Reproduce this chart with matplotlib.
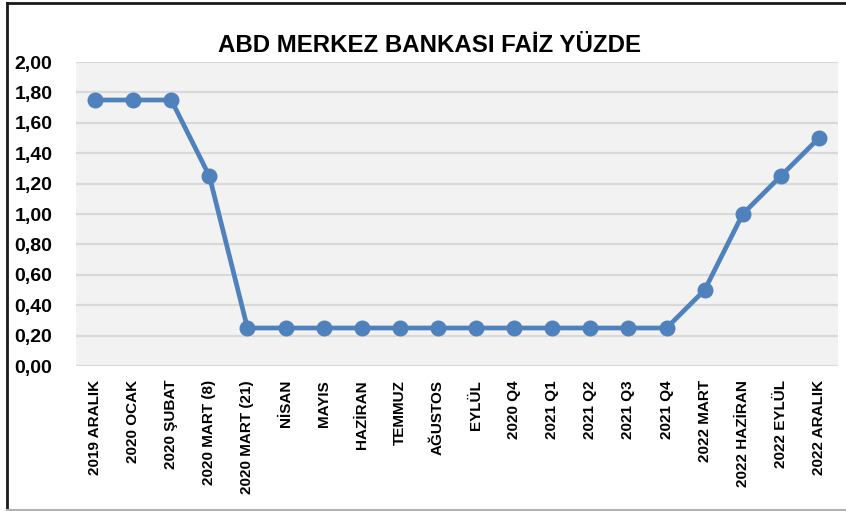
import matplotlib
matplotlib.use("Agg")
import matplotlib.pyplot as plt
from matplotlib.lines import Line2D
from matplotlib.ticker import FuncFormatter

plt.rcParams['font.family'] = ['Liberation Sans', 'DejaVu Sans']

categories = [
    "2019 ARALIK", "2020 OCAK", "2020 ŞUBAT", "2020 MART (8)", "2020 MART (21)",
    "NİSAN", "MAYIS", "HAZİRAN", "TEMMUZ", "AĞUSTOS", "EYLÜL", "2020 Q4",
    "2021 Q1", "2021 Q2", "2021 Q3", "2021 Q4", "2022 MART", "2022 HAZİRAN",
    "2022 EYLÜL", "2022 ARALIK",
]
rates = [1.75, 1.75, 1.75, 1.25, 0.25, 0.25, 0.25, 0.25, 0.25, 0.25, 0.25,
         0.25, 0.25, 0.25, 0.25, 0.25, 0.50, 1.00, 1.25, 1.50]
y_ticks = [0.0, 0.2, 0.4, 0.6, 0.8, 1.0, 1.2, 1.4, 1.6, 1.8, 2.0]
title = "ABD MERKEZ BANKASI FAİZ YÜZDE"

W, H = 846, 511
fig = plt.figure(figsize=(W / 100, H / 100), dpi=100)
fig.patch.set_facecolor("white")

# plot area in pixel coords: left 76, right 838, top 62, bottom 366
ax = fig.add_axes([76 / W, 1 - 366 / H, (838 - 76) / W, (366 - 62) / H])
ax.set_facecolor("#f2f2f2")

x = list(range(len(categories)))
ax.plot(x, rates, color="#4f81bd", linewidth=3.4, marker="o",
        markersize=10.5, zorder=3, solid_capstyle="round")

ax.set_xlim(-0.5, len(categories) - 0.5)
ax.set_ylim(0, 2.0)
ax.set_yticks(y_ticks)
ax.yaxis.set_major_formatter(FuncFormatter(lambda v, p: f"{v:.2f}".replace(".", ",")))
ax.grid(axis="y", color="#d9d9d9", linewidth=1.6, zorder=1)
ax.set_axisbelow(True)

ax.set_xticks(x)
ax.set_xticklabels(categories, rotation=90, fontsize=11, fontweight="bold")
for lbl in ax.get_yticklabels():
    lbl.set_fontsize(14)
    lbl.set_fontweight("bold")
ax.tick_params(axis="both", length=0)
ax.tick_params(axis="x", pad=10)
ax.tick_params(axis="y", pad=17)

for s in ax.spines.values():
    s.set_visible(False)

fig.text(429 / W, 1 - 46 / H, title, ha="center", va="center",
         fontsize=17.3, fontweight="bold")

# outer border (left/top dark, bottom light gray)
fig.add_artist(Line2D([7 / W, 7 / W], [0, 1 - 3 / H], color="#1a1a1a", linewidth=2))
fig.add_artist(Line2D([7 / W, 1], [1 - 3 / H, 1 - 3 / H], color="#1a1a1a", linewidth=2))
fig.add_artist(Line2D([7 / W, 1], [1 / H, 1 / H], color="#b0b0b0", linewidth=1.5))

fig.savefig("out.png", dpi=100)
